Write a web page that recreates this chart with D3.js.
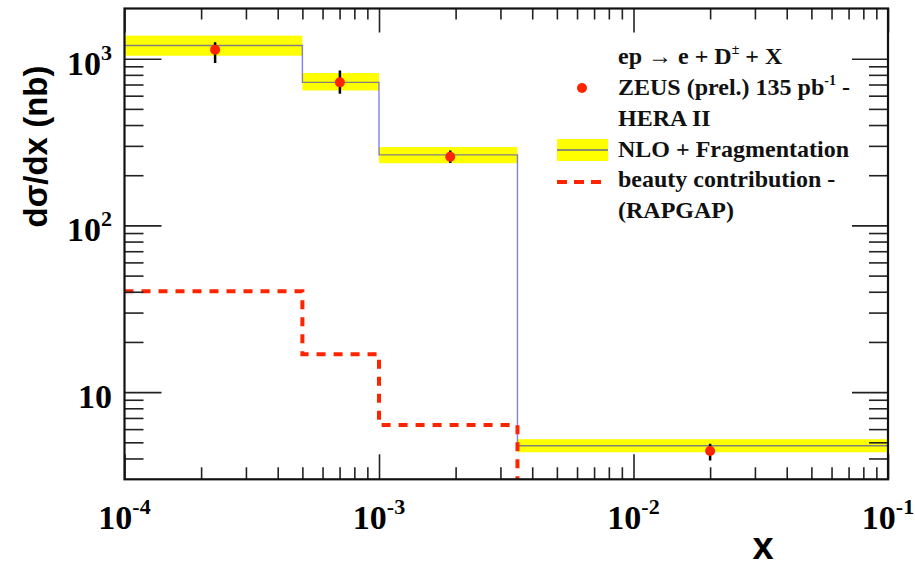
<!DOCTYPE html>
<html>
<head>
<meta charset="utf-8">
<script src="https://cdn.jsdelivr.net/npm/d3@7"></script>
<style>
  body { margin: 0; background: #fff; }
  svg { display: block; }
</style>
</head>
<body>
<script>
// -----------------------------
// Data
// -----------------------------
const binEdges = [1e-4, 5e-4, 1e-3, 3.5e-3, 1e-1];
const nloCentral = [1200, 721, 265, 4.77];
const nloUp = [1375, 820, 295, 5.22];
const nloDown = [1042, 645, 236, 4.36];
const beauty = [40.3, 16.9, 6.34, 1.0];

const dataX = [2.27e-4, 7.02e-4, 1.905e-3, 0.02];
const dataY = [1133, 721, 258, 4.43];
const dataErrUp = [1253, 850, 281, 4.9];
const dataErrDown = [942, 616, 237, 3.89];

const xMajor = [1e-4, 1e-3, 1e-2, 1e-1];
const xMajorExp = ["-4", "-3", "-2", "-1"];
const yMajor = [10, 100, 1000];
const yMajorBase = ["10", "10", "10"];
const yMajorExp = ["", "2", "3"];

const legendLines = [
  { text: "ep \u2192 e + D", sup: "\u00b1", after: " + X" },
  { text: "ZEUS (prel.) 135 pb", sup: "-1", after: " -" },
  { text: "HERA II" },
  { text: "NLO + Fragmentation" },
  { text: "beauty contribution -" },
  { text: "(RAPGAP)" }
];

// -----------------------------
// SVG setup
// -----------------------------
const WIDTH = 915;
const HEIGHT = 568;
const FRAME = { left: 124.5, right: 888, top: 8.5, bottom: 479.3 };

const RED = "#ff2400";
const YELLOW = "#ffff00";
const SERIF = "'Liberation Serif', 'Times New Roman', serif";
const SANS = "'Liberation Sans', Arial, sans-serif";

const svg = d3.select("body")
  .append("svg")
  .attr("width", WIDTH)
  .attr("height", HEIGHT);

const x = d3.scaleLog().domain([1e-4, 1e-1]).range([FRAME.left, FRAME.right]);
const y = d3.scaleLog().domain([3, 2000]).range([FRAME.bottom, FRAME.top]);

svg.append("defs").append("clipPath")
  .attr("id", "plot-clip")
  .append("rect")
  .attr("x", FRAME.left)
  .attr("y", FRAME.top)
  .attr("width", FRAME.right - FRAME.left)
  .attr("height", FRAME.bottom - FRAME.top);

const plot = svg.append("g").attr("clip-path", "url(#plot-clip)");

const bins = nloCentral.map((v, i) => ({
  x0: binEdges[i], x1: binEdges[i + 1],
  c: v, up: nloUp[i], down: nloDown[i], b: beauty[i]
}));

// uncertainty band
plot.selectAll("rect.band")
  .data(bins)
  .enter()
  .append("rect")
  .attr("class", "band")
  .attr("x", d => x(d.x0))
  .attr("y", d => y(d.up))
  .attr("width", d => x(d.x1) - x(d.x0))
  .attr("height", d => y(d.down) - y(d.up))
  .attr("fill", YELLOW);

// step line helper
function stepPoints(key) {
  const pts = [];
  bins.forEach(d => {
    pts.push([x(d.x0), y(d[key])]);
    pts.push([x(d.x1), y(d[key])]);
  });
  return pts;
}

plot.append("path")
  .attr("d", d3.line()(stepPoints("c")))
  .attr("fill", "none")
  .attr("stroke", "#0000ff")
  .attr("stroke-opacity", 0.5)
  .attr("stroke-width", 1.4);

plot.append("path")
  .attr("d", d3.line()(stepPoints("b")))
  .attr("fill", "none")
  .attr("stroke", RED)
  .attr("stroke-width", 4)
  .attr("stroke-dasharray", "9,8");

// data points
const points = dataX.map((v, i) => ({
  x: v, y: dataY[i], hi: dataErrUp[i], lo: dataErrDown[i]
}));

plot.selectAll("line.err")
  .data(points)
  .enter()
  .append("line")
  .attr("class", "err")
  .attr("x1", d => x(d.x))
  .attr("x2", d => x(d.x))
  .attr("y1", d => y(d.hi))
  .attr("y2", d => y(d.lo))
  .attr("stroke", "#000")
  .attr("stroke-width", 2.5);

plot.selectAll("circle.pt")
  .data(points)
  .enter()
  .append("circle")
  .attr("class", "pt")
  .attr("cx", d => x(d.x))
  .attr("cy", d => y(d.y))
  .attr("r", 5)
  .attr("fill", RED);

// -----------------------------
// Axes
// -----------------------------
const xMinor = x.ticks().filter(t => !xMajor.some(m => Math.abs(m - t) / m < 1e-6));
const yAll = y.ticks().filter(t => t > 3 && t < 2000);
const yMinor = yAll.filter(t => !yMajor.some(m => Math.abs(m - t) / m < 1e-6));

function styleAxis(g) {
  g.select(".domain").remove();
  g.selectAll(".tick line").attr("stroke", "#222").attr("stroke-width", 1.6);
}

svg.append("g")
  .attr("transform", `translate(0,${FRAME.bottom})`)
  .call(d3.axisBottom(x).tickValues(xMajor).tickSize(-25).tickFormat(""))
  .call(styleAxis);
svg.append("g")
  .attr("transform", `translate(0,${FRAME.bottom})`)
  .call(d3.axisBottom(x).tickValues(xMinor).tickSize(-12).tickFormat(""))
  .call(styleAxis);
svg.append("g")
  .attr("transform", `translate(0,${FRAME.top})`)
  .call(d3.axisTop(x).tickValues(xMajor).tickSize(-24).tickFormat(""))
  .call(styleAxis);
svg.append("g")
  .attr("transform", `translate(0,${FRAME.top})`)
  .call(d3.axisTop(x).tickValues(xMinor).tickSize(-11).tickFormat(""))
  .call(styleAxis);

svg.append("g")
  .attr("transform", `translate(${FRAME.left},0)`)
  .call(d3.axisLeft(y).tickValues(yMajor).tickSize(-37).tickFormat(""))
  .call(styleAxis);
svg.append("g")
  .attr("transform", `translate(${FRAME.left},0)`)
  .call(d3.axisLeft(y).tickValues(yMinor).tickSize(-19).tickFormat(""))
  .call(styleAxis);
svg.append("g")
  .attr("transform", `translate(${FRAME.right},0)`)
  .call(d3.axisRight(y).tickValues(yMajor).tickSize(-36).tickFormat(""))
  .call(styleAxis);
svg.append("g")
  .attr("transform", `translate(${FRAME.right},0)`)
  .call(d3.axisRight(y).tickValues(yMinor).tickSize(-19).tickFormat(""))
  .call(styleAxis);

// frame
svg.append("rect")
  .attr("x", FRAME.left)
  .attr("y", FRAME.top)
  .attr("width", FRAME.right - FRAME.left)
  .attr("height", FRAME.bottom - FRAME.top)
  .attr("fill", "none")
  .attr("stroke", "#111")
  .attr("stroke-width", 2.2);

// x tick labels
xMajor.forEach((v, i) => {
  const t = svg.append("text")
    .attr("x", x(v))
    .attr("y", 529)
    .attr("text-anchor", "middle")
    .attr("font-family", SERIF)
    .attr("font-weight", "bold")
    .attr("font-size", 34)
    .attr("fill", "#000");
  t.append("tspan").text("10");
  t.append("tspan").attr("dy", -15).attr("font-size", 22).text(xMajorExp[i]);
});

// y tick labels
yMajor.forEach((v, i) => {
  const t = svg.append("text")
    .attr("x", 112)
    .attr("y", y(v) + 16)
    .attr("text-anchor", "end")
    .attr("font-family", SERIF)
    .attr("font-weight", "bold")
    .attr("font-size", 34)
    .attr("fill", "#000");
  t.append("tspan").text(yMajorBase[i]);
  if (yMajorExp[i]) {
    t.append("tspan").attr("dy", -15).attr("font-size", 22).text(yMajorExp[i]);
  }
});

// axis titles
svg.append("text")
  .attr("transform", "translate(47,146.5) rotate(-90)")
  .attr("text-anchor", "middle")
  .attr("font-family", SANS)
  .attr("font-weight", "bold")
  .attr("font-size", 33)
  .attr("fill", "#000")
  .text("d\u03c3/dx (nb)");

svg.append("text")
  .attr("x", 763)
  .attr("y", 559)
  .attr("text-anchor", "middle")
  .attr("font-family", SANS)
  .attr("font-weight", "bold")
  .attr("font-size", 38)
  .attr("fill", "#000")
  .text("x");

// -----------------------------
// Legend
// -----------------------------
const legend = svg.append("g").attr("id", "legend");
const LEG_X = 618;
const legY = [64, 95, 126, 157, 187, 218];

legendLines.forEach((l, i) => {
  const t = legend.append("text")
    .attr("x", LEG_X)
    .attr("y", legY[i])
    .attr("font-family", SERIF)
    .attr("font-weight", "bold")
    .attr("font-size", 24)
    .attr("fill", "#111");
  t.append("tspan").text(l.text);
  if (l.sup) {
    t.append("tspan").attr("dy", -10).attr("font-size", 14).text(l.sup);
    t.append("tspan").attr("dy", 10).text(l.after);
  }
});

legend.append("circle")
  .attr("cx", 582)
  .attr("cy", 88)
  .attr("r", 5)
  .attr("fill", RED);

legend.append("rect")
  .attr("x", 557)
  .attr("y", 139)
  .attr("width", 51)
  .attr("height", 22)
  .attr("fill", YELLOW);

legend.append("line")
  .attr("x1", 557)
  .attr("x2", 608)
  .attr("y1", 150)
  .attr("y2", 150)
  .attr("stroke", "#0000ff")
  .attr("stroke-opacity", 0.6)
  .attr("stroke-width", 1.4);

legend.append("line")
  .attr("x1", 557)
  .attr("x2", 608)
  .attr("y1", 182)
  .attr("y2", 182)
  .attr("stroke", RED)
  .attr("stroke-width", 4)
  .attr("stroke-dasharray", "10,7");
</script>
</body>
</html>
